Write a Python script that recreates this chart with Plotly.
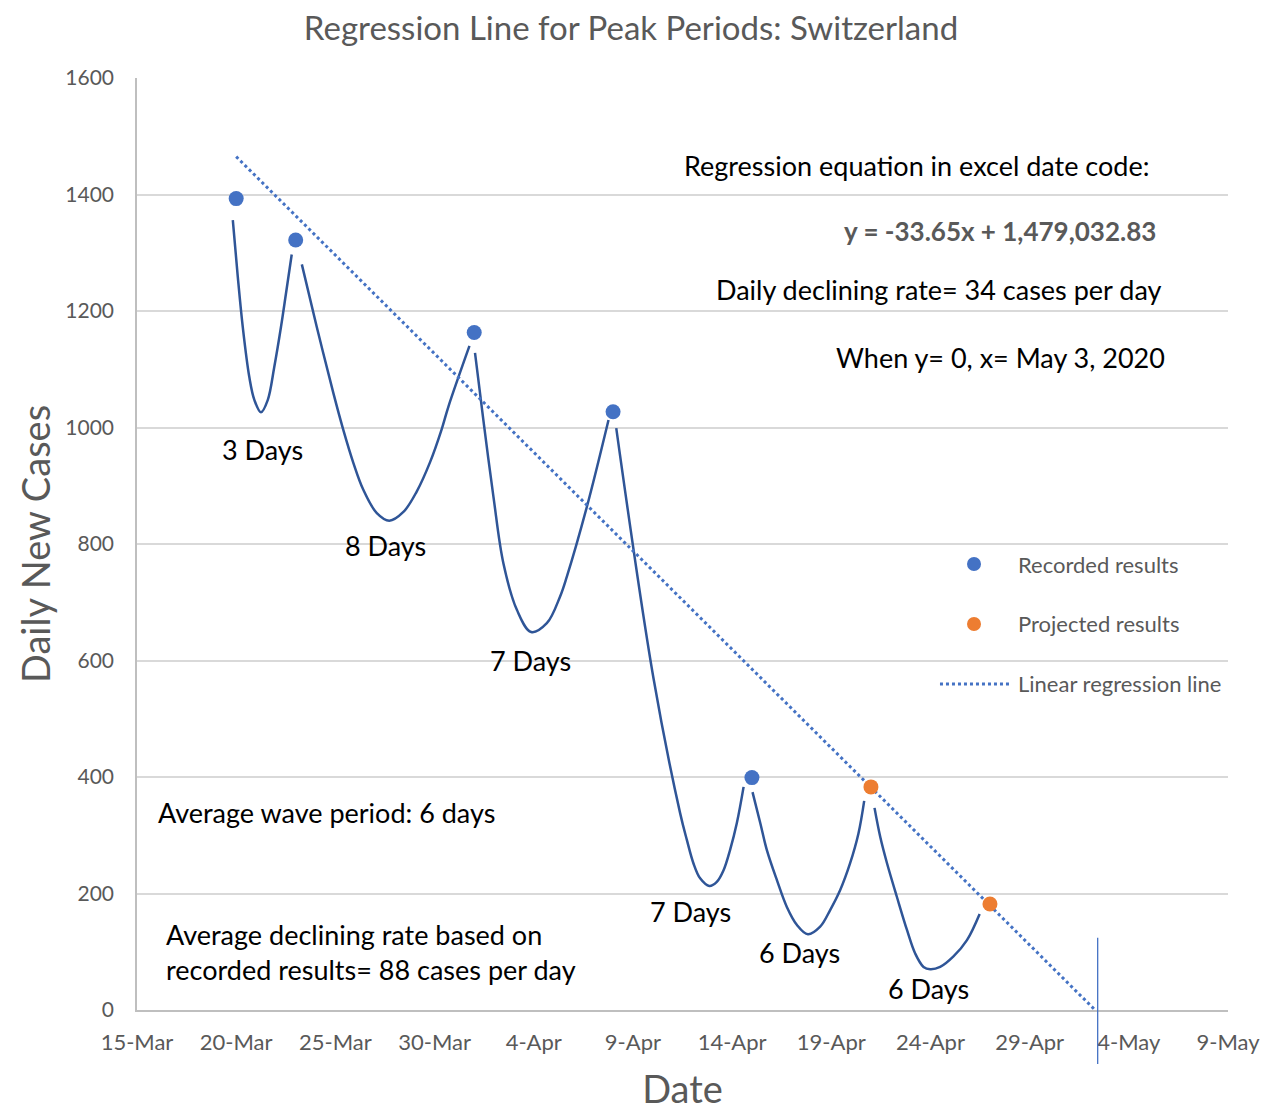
import plotly.graph_objects as go

# ---------------- data (x in Excel date code: 43905 = 15-Mar-2020) ----------------
recorded_x = [43910, 43913, 43922, 43929, 43936]
recorded_y = [1393, 1322, 1163, 1027, 399]

projected_x = [43942, 43948]
projected_y = [383, 182]

reg_x = [43910, 43953.3]
reg_y = [1465, 0]

vline_x = 43953.43

wave1_x = [43909.83, 43910.08, 43910.33, 43910.66, 43910.92, 43911.25, 43911.59, 43911.92,
           43912.26, 43912.51, 43912.80]
wave1_y = [1356, 1259, 1173, 1087, 1047, 1026, 1047, 1104, 1173, 1230, 1297]

wave2_x = [43913.31, 43914.06, 43914.90, 43915.40, 43915.91, 43916.41, 43917.09, 43917.72,
           43918.43, 43919.10, 43919.78, 43920.35, 43920.70, 43921.76]
wave2_y = [1280, 1173, 1059, 996, 939, 893, 853, 840, 855, 890, 941, 996, 1036, 1140]

wave3_x = [43922.04, 43922.46, 43922.97, 43923.47, 43924.15, 43924.87, 43925.66, 43926.33,
           43926.67, 43927.68, 43928.77]
wave3_y = [1128, 1013, 881, 767, 687, 649, 664, 710, 744, 864, 1013]

wave4_x = [43929.16, 43931.04, 43932.38, 43932.72, 43933.05, 43933.39, 43933.85, 43934.23,
           43934.57, 43934.90, 43935.24, 43935.58]
wave4_y = [999, 569, 338, 292, 252, 226, 213, 220, 240, 275, 321, 383]

wave5_x = [43936.03, 43936.42, 43936.75, 43937.26, 43937.76, 43938.27, 43938.82, 43939.44,
           43939.95, 43940.45, 43940.95, 43941.37, 43941.66]
wave5_y = [374, 321, 275, 223, 177, 146, 130, 143, 172, 206, 252, 303, 359]

wave6_x = [43942.18, 43942.47, 43942.81, 43943.31, 43943.82, 43944.23, 43944.65, 43944.99,
           43945.49, 43946.16, 43946.84, 43947.48]
wave6_y = [347, 297, 252, 194, 137, 97, 74, 70, 74, 92, 120, 165]

period_labels = ["3 Days", "8 Days", "7 Days", "7 Days", "6 Days", "6 Days"]

x_tick_vals = [43905, 43910, 43915, 43920, 43925, 43930, 43935, 43940, 43945, 43950, 43955, 43960]
x_tick_text = ["15-Mar", "20-Mar", "25-Mar", "30-Mar", "4-Apr", "9-Apr",
               "14-Apr", "19-Apr", "24-Apr", "29-Apr", "4-May", "9-May"]
y_tick_vals = [0, 200, 400, 600, 800, 1000, 1200, 1400, 1600]

# ---------------- styling ----------------
FONT = "Lato"
GRAY = "#595959"
BLUE = "#4472C4"
DARK = "#2F5597"
ORANGE = "#ED7D31"

fig = go.Figure()

waves = [(wave1_x, wave1_y), (wave2_x, wave2_y), (wave3_x, wave3_y),
         (wave4_x, wave4_y), (wave5_x, wave5_y), (wave6_x, wave6_y)]
for wx, wy in waves:
    fig.add_trace(go.Scatter(x=wx, y=wy, mode="lines",
                             line=dict(color=DARK, width=2.5, shape="spline", smoothing=1.0),
                             showlegend=False, hoverinfo="skip"))

fig.add_trace(go.Scatter(x=reg_x, y=reg_y, mode="lines",
                         line=dict(color=BLUE, width=3, dash="dot"),
                         showlegend=False, name="Linear regression line"))
fig.add_trace(go.Scatter(x=recorded_x, y=recorded_y, mode="markers",
                         marker=dict(color=BLUE, size=15), showlegend=False,
                         name="Recorded results", cliponaxis=False))
fig.add_trace(go.Scatter(x=projected_x, y=projected_y, mode="markers",
                         marker=dict(color=ORANGE, size=15), showlegend=False,
                         name="Projected results", cliponaxis=False))

# vertical marker line at regression zero crossing
fig.add_shape(type="line", xref="x", yref="paper", x0=vline_x, x1=vline_x,
              y0=-0.058, y1=0.0776, line=dict(color=BLUE, width=1.3))

# ---------------- annotations ----------------
def ann(text, x, y, size=27, color="black", xanchor="center", bold=False, align="left", angle=0):
    if bold:
        text = "<b>" + text + "</b>"
    fig.add_annotation(text=text, x=x, y=y, xref="paper", yref="paper", showarrow=False,
                       xanchor=xanchor, yanchor="middle", align=align, textangle=angle,
                       font=dict(family=FONT, size=size, color=color))

ann("Regression equation in excel date code:", 0.7149, 0.9056)
ann("y = -33.65x + 1,479,032.83", 0.9358, 0.8358, size=26, color=GRAY, xanchor="right", bold=True)
ann("Daily declining rate= 34 cases per day", 0.9404, 0.7736, xanchor="right")
ann("When y= 0, x= May 3, 2020", 0.9441, 0.7006, xanchor="right")

label_pos = [(0.1146, 0.6009), (0.2282, 0.4989), (0.3611, 0.3755),
             (0.5069, 0.1062), (0.6068, 0.0612), (0.7259, 0.0236)]
for lbl, (lx, ly) in zip(period_labels, label_pos):
    ann(lbl, lx, ly)

ann("Average wave period: 6 days", 0.0174, 0.2114, xanchor="left")
ann("Average declining rate based on<br>recorded results= 88 cases per day", 0.0247, 0.0622,
    xanchor="left")

# y-axis title
ann("Daily New Cases", -0.0935, 0.5, size=38, color=GRAY, angle=-90)

# ---------------- manual legend ----------------
for cy, col in [(0.4785, BLUE), (0.4142, ORANGE)]:
    fig.add_shape(type="circle", xref="paper", yref="paper", xsizemode="pixel", ysizemode="pixel",
                  xanchor=0.7672, yanchor=cy, x0=-7, x1=7, y0=-7, y1=7,
                  fillcolor=col, line=dict(width=0))
fig.add_shape(type="line", xref="paper", yref="paper", x0=0.7360, x1=0.8002, y0=0.3498, y1=0.3498,
              line=dict(color=BLUE, width=3, dash="dot"))
ann("Recorded results", 0.8057, 0.4785, size=22, color=GRAY, xanchor="left")
ann("Projected results", 0.8057, 0.4142, size=22, color=GRAY, xanchor="left")
ann("Linear regression line", 0.8057, 0.3498, size=22, color=GRAY, xanchor="left")

fig.update_layout(
    width=1280, height=1103,
    margin=dict(l=129, r=60, t=70, b=101, autoexpand=False),
    paper_bgcolor="white", plot_bgcolor="white",
    font=dict(family=FONT, color=GRAY),
    title=dict(text="Regression Line for Peak Periods: Switzerland", x=0.4528, xref="paper",
               xanchor="center", y=0.9819, yref="container", yanchor="middle",
               font=dict(family=FONT, size=33, color=GRAY)),
    showlegend=False,
)
fig.update_xaxes(range=[43905, 43960], automargin=False,
                 tickvals=x_tick_vals, ticktext=x_tick_text,
                 showgrid=False, zeroline=False, showline=True, linecolor="#BFBFBF", linewidth=2,
                 ticks="", ticklabelstandoff=12,
                 tickfont=dict(family=FONT, size=22, color=GRAY),
                 title=dict(text="Date", font=dict(family=FONT, size=38, color=GRAY), standoff=26))
fig.update_yaxes(range=[0, 1600], tickvals=y_tick_vals, automargin=False,
                 showgrid=True, gridcolor="#D9D9D9", gridwidth=1.5,
                 zeroline=False, showline=True, linecolor="#BFBFBF", linewidth=1.5,
                 ticks="", ticklabelstandoff=17,
                 tickfont=dict(family=FONT, size=21, color=GRAY))

fig.write_html("out.html")
